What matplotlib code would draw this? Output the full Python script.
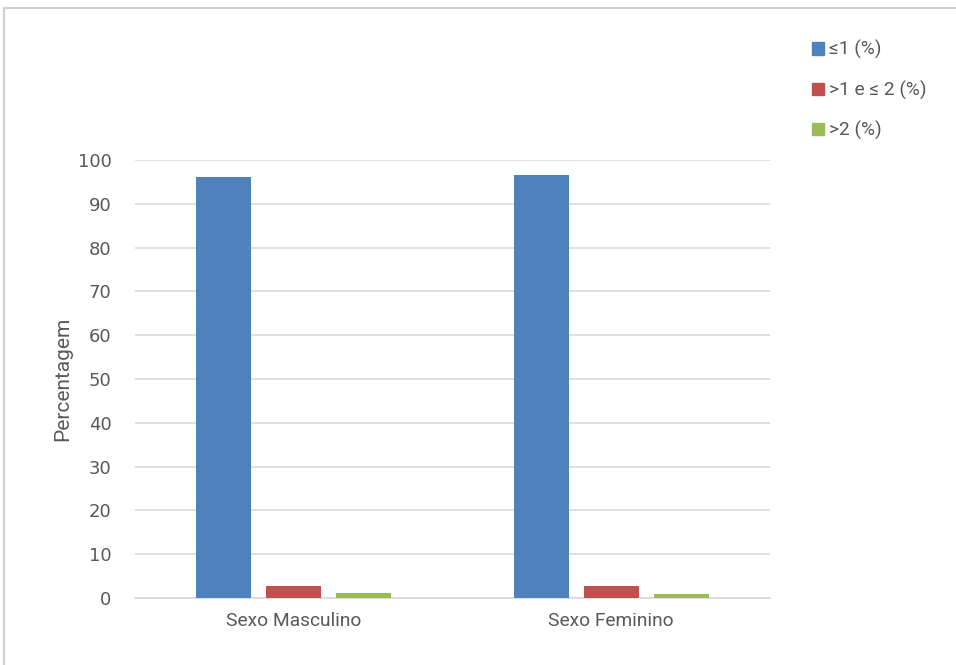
import matplotlib.pyplot as plt
import numpy as np
from matplotlib.lines import Line2D

plt.rcParams['font.family'] = ['Roboto', 'DejaVu Sans']

categories = ['Sexo Masculino', 'Sexo Feminino']
series_labels = ['≤1 (%)', '>1 e ≤ 2 (%)', '>2 (%)']
le1 = [96.1, 96.5]
gt1_le2 = [2.7, 2.7]
gt2 = [1.1, 0.85]
yticks = list(range(0, 101, 10))

colors = ['#4F81BD', '#C0504D', '#9BBB59']
text_color = '#595959'

fig = plt.figure(figsize=(9.56, 6.65), dpi=100)
ax = fig.add_axes([135 / 956, 1 - 598 / 665, 635 / 956, 438 / 665])

x = np.arange(len(categories))
width = 0.173
step = 0.22
for i, (vals, lab) in enumerate(zip([le1, gt1_le2, gt2], series_labels)):
    ax.bar(x + (i - 1) * step, vals, width, color=colors[i], label=lab, zorder=3)

ax.set_xlim(-0.5, 1.5)
ax.set_ylim(0, 100)
ax.set_yticks(yticks)
ax.set_xticks(x)
ax.set_xticklabels(categories, fontsize=13.8)
ax.set_yticklabels([str(v) for v in yticks], fontsize=13, family='DejaVu Sans')
ax.tick_params(axis='both', length=0, colors=text_color)
ax.tick_params(axis='y', pad=17)
ax.tick_params(axis='x', pad=10)
ax.yaxis.grid(True, color='#d9d9d9', linewidth=1.2, zorder=0)
ax.set_axisbelow(True)
for s in ['top', 'right', 'left']:
    ax.spines[s].set_visible(False)
ax.spines['bottom'].set_color('#d9d9d9')
ax.spines['bottom'].set_linewidth(1.2)
ax.set_ylabel('Percentagem', fontsize=15, color=text_color, labelpad=4)

handles = [plt.Rectangle((0, 0), 1, 1, color=c) for c in colors]
fig.legend(handles, series_labels, loc='upper left', bbox_to_anchor=(795 / 956, 1 - 23 / 665),
           frameon=False, fontsize=13.8, labelcolor=text_color, handlelength=0.6,
           handleheight=0.6, handletextpad=0.25, labelspacing=1.1)

# chart border (only left and top visible)
fig.add_artist(Line2D([4 / 956, 4 / 956], [0, 1 - 8 / 665], transform=fig.transFigure,
                      color='#d0d0d0', linewidth=1.5))
fig.add_artist(Line2D([4 / 956, 1], [1 - 8 / 665, 1 - 8 / 665], transform=fig.transFigure,
                      color='#d0d0d0', linewidth=1.5))

fig.savefig('out.png', dpi=100, facecolor='white')
